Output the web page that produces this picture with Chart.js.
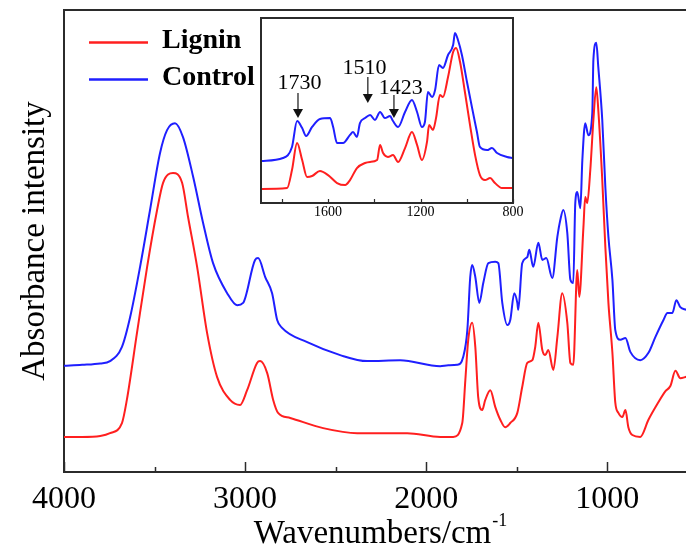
<!DOCTYPE html>
<html><head><meta charset="utf-8">
<script src="https://cdn.jsdelivr.net/npm/chart.js@4.4.1/dist/chart.umd.min.js"></script>
<style>
html,body{margin:0;padding:0;background:#fff;overflow:hidden;width:686px;height:550px;}
#wrap{position:relative;width:686px;height:550px;overflow:hidden;background:#fff;}
#main{position:absolute;left:0;top:0;}
#inset{position:absolute;left:250px;top:8px;}
</style></head><body>
<div id="wrap">
<canvas id="main" width="720" height="550" style="width:720px;height:550px"></canvas>
<canvas id="inset" width="280" height="215" style="width:280px;height:215px"></canvas>
</div>
<script>
// ---------- DATA (main spectrum) ----------
const ligninWn = [4000,3900,3800,3746,3680,3653,3597,3541,3486,3453,3398,3348,3315,3265,3210,3155,3083,3028,2989,2934,2917,2878,2845,2818,2751,2569,2381,2105,1923,1851,1801,1784,1768,1746,1729,1713,1691,1674,1646,1619,1591,1564,1536,1497,1470,1442,1414,1398,1381,1359,1343,1326,1298,1276,1249,1221,1204,1188,1166,1155,1132,1122,1111,1094,1077,1061,1050,1028,1011,994,972,956,939,917,900,884,862,818,773,724,679,652,624,597,564];
const ligninAbs = [7.6,7.6,7.8,8.4,10.6,15.6,30.1,44.4,56.7,62.6,64.7,62.6,55.2,44.4,30.1,20.6,15.6,14.5,17.7,23.6,24.0,21.4,15.6,12.8,11.7,9.5,8.4,8.4,7.6,7.6,10.6,19.9,28.6,32.3,27.1,16.2,13.4,15.6,17.7,14.1,11.3,9.7,10.6,12.8,18.4,23.6,24.2,27.1,32.3,26.4,25.3,26.4,22.1,29.2,38.7,32.3,23.6,23.2,43.7,37.9,53.0,59.5,58.2,65.4,76.2,83.3,78.4,63.2,48.7,36.6,25.8,15.0,12.8,11.9,13.4,9.7,8.0,7.6,11.3,14.7,17.5,18.6,21.9,20.3,20.6];
const controlWn = [4000,3900,3800,3746,3680,3635,3580,3525,3470,3431,3387,3343,3287,3232,3177,3099,3044,3011,2945,2928,2889,2851,2823,2796,2657,2475,2326,2144,1923,1878,1829,1796,1773,1757,1746,1729,1707,1685,1657,1619,1602,1580,1552,1536,1514,1497,1492,1470,1442,1431,1409,1381,1359,1337,1304,1276,1260,1243,1221,1204,1188,1177,1166,1149,1138,1122,1105,1083,1077,1061,1050,1028,1011,994,972,956,928,900,873,818,773,735,690,668,641,619,597,564];
const controlAbs = [23.0,23.2,23.5,24.0,27.1,33.5,44.4,56.7,69.0,74.0,75.5,72.5,63.9,53.9,45.2,38.7,36.1,36.6,45.9,46.3,42.2,38.7,32.9,31.2,28.1,25.3,24.0,24.2,22.9,23.1,23.2,24.9,30.7,42.2,44.8,42.2,36.6,40.9,45.2,45.5,45.2,36.6,31.8,32.9,38.7,36.6,35.1,45.2,46.5,48.1,44.4,49.6,45.9,46.3,42.0,50.9,54.5,56.7,51.7,41.6,40.9,58.2,60.6,57.1,67.5,75.5,72.9,77.7,89.2,92.9,87.7,76.2,61.7,50.9,41.6,30.7,28.6,29.0,26.0,24.2,25.8,29.2,32.9,34.4,34.4,37.2,35.7,35.1];
const xTickValues = [4000,3500,3000,2500,2000,1500,1000,500];
const xLabelValues = [4000,3000,2000,1000];

// ---------- DATA (inset, 1890-800 cm-1) ----------
const insetLigninWn = [1890,1777,1756,1734,1712,1691,1669,1635,1600,1561,1526,1505,1475,1440,1418,1388,1375,1362,1341,1319,1297,1267,1237,1215,1194,1172,1163,1146,1133,1116,1103,1081,1059,1046,1029,1008,986,964,943,921,899,878,848,800];
const insetLigninAbs = [7.6,8.1,17.8,32.4,23.2,14.1,14.6,17.3,15.1,10.8,9.7,12.4,18.9,21.6,22.2,23.2,31.4,27.0,24.9,25.9,22.2,29.7,38.4,31.4,23.2,33.0,42.2,39.5,45.9,58.4,57.3,68.1,81.6,83.8,76.2,60.0,42.2,25.9,15.1,12.4,13.5,10.8,8.1,8.1];
const insetControlWn = [1890,1795,1756,1734,1712,1695,1669,1635,1591,1578,1561,1535,1505,1492,1475,1462,1440,1418,1397,1375,1354,1332,1319,1297,1267,1237,1215,1194,1181,1168,1150,1137,1120,1103,1081,1059,1051,1038,1021,999,977,956,943,912,891,869,826,800];
const insetControlAbs = [22.7,24.3,30.3,44.3,40.5,36.2,41.1,45.4,45.9,41.1,32.4,32.4,36.8,38.4,35.7,43.2,45.9,47.6,44.9,49.2,45.9,47.0,44.3,41.1,49.2,55.7,49.2,41.1,43.8,60.0,57.3,61.1,74.6,73.0,80.0,85.4,91.9,88.1,80.0,65.4,51.4,38.4,30.3,28.6,29.7,27.0,24.9,24.3];
const insetTickValues = [1800,1600,1400,1200,1000,800];
const insetLabelValues = [1600,1200,800];

// annotations in the inset
const annLabels = ['1730','1510','1423'];
const annArrowWn = [1730,1428,1315];
const annTextWn = [1723,1442,1286];
const annTipY = [45.9,54.1,45.9];
const annTailY = [59.5,68.1,58.4];
const annTextY = [61.6,69.7,58.9];

// ---------- STYLE ----------
const SERIF = "'Liberation Serif','Times New Roman',serif";
const RED = '#ff1f1f', BLUE = '#1f1fff', AXIS = '#2b2b2b';

const pts = (xs, ys) => xs.map((x, i) => ({x: x, y: ys[i]}));

const mainDecor = {
  id: 'mainDecor',
  afterDraw(chart) {
    const ctx = chart.ctx, ca = chart.chartArea, xs = chart.scales.x;
    ctx.save();
    // top frame line
    ctx.strokeStyle = AXIS; ctx.lineWidth = 2;
    ctx.beginPath(); ctx.moveTo(ca.left - 1, ca.top); ctx.lineTo(ca.right, ca.top); ctx.stroke();
    // inward tick marks
    ctx.lineWidth = 1.5;
    xTickValues.forEach(v => {
      const px = Math.round(xs.getPixelForValue(v)) + 0.5;
      const len = (v % 1000 === 0) ? 10 : 5;
      ctx.beginPath(); ctx.moveTo(px, ca.bottom); ctx.lineTo(px, ca.bottom - len); ctx.stroke();
    });
    // x axis title with superscript
    ctx.fillStyle = '#000';
    ctx.textBaseline = 'alphabetic'; ctx.textAlign = 'left';
    const t1 = 'Wavenumbers/cm', t2 = '-1';
    ctx.font = '33px ' + SERIF;
    const w1 = ctx.measureText(t1).width;
    ctx.font = '18px ' + SERIF;
    const w2 = ctx.measureText(t2).width;
    const x0 = 380 - (w1 + w2) / 2;
    ctx.font = '33px ' + SERIF;
    ctx.fillText(t1, x0, 543);
    ctx.font = '18px ' + SERIF;
    ctx.fillText(t2, x0 + w1 + 1, 526);
    // legend
    const items = [{ds: chart.data.datasets[0], y: 48}, {ds: chart.data.datasets[1], y: 85}];
    items.forEach(it => {
      ctx.strokeStyle = it.ds.borderColor; ctx.lineWidth = 2.5;
      ctx.beginPath(); ctx.moveTo(89, it.y - 5.5); ctx.lineTo(148, it.y - 5.5); ctx.stroke();
      ctx.fillStyle = '#000'; ctx.font = 'bold 28px ' + SERIF;
      ctx.fillText(it.ds.label, 162, it.y);
    });
    ctx.restore();
  }
};

new Chart(document.getElementById('main'), {
  type: 'line',
  data: { datasets: [
    {label: 'Lignin', data: pts(ligninWn, ligninAbs), borderColor: RED, borderWidth: 2, pointRadius: 0, fill: false, cubicInterpolationMode: 'monotone'},
    {label: 'Control', data: pts(controlWn, controlAbs), borderColor: BLUE, borderWidth: 2, pointRadius: 0, fill: false, cubicInterpolationMode: 'monotone'}
  ]},
  options: {
    responsive: false, animation: false, events: [],
    layout: {padding: {left: 0, top: 10, right: 4, bottom: 0}},
    plugins: {legend: {display: false}, tooltip: {enabled: false}},
    scales: {
      x: {
        type: 'linear', reverse: true, min: 400, max: 4000,
        afterBuildTicks: s => { s.ticks = xTickValues.map(v => ({value: v})); },
        afterFit: s => { s.height = 78; },
        ticks: {autoSkip: false, maxRotation: 0, minRotation: 0, padding: 8, color: '#000',
          font: {family: SERIF, size: 32},
          callback: v => xLabelValues.includes(v) ? String(v) : ''},
        grid: {display: false, drawTicks: false},
        border: {display: true, color: AXIS, width: 2}
      },
      y: {
        min: 0, max: 100,
        afterFit: s => { s.width = 64; },
        ticks: {display: false},
        grid: {display: false, drawTicks: false},
        border: {display: true, color: AXIS, width: 2},
        title: {display: true, text: 'Absorbance intensity', color: '#000',
          font: {family: SERIF, size: 33}, padding: {top: 16, bottom: 0}}
      }
    }
  },
  plugins: [mainDecor]
});

const insetDecor = {
  id: 'insetDecor',
  beforeDatasetsDraw(chart) {
    const ctx = chart.ctx, ca = chart.chartArea;
    ctx.save(); ctx.fillStyle = '#fff';
    ctx.fillRect(ca.left, ca.top, ca.right - ca.left, ca.bottom - ca.top);
    ctx.restore();
  },
  afterDraw(chart) {
    const ctx = chart.ctx, ca = chart.chartArea, xs = chart.scales.x, ys = chart.scales.y;
    ctx.save();
    ctx.strokeStyle = AXIS; ctx.lineWidth = 2;
    ctx.strokeRect(ca.left, ca.top, ca.right - ca.left, ca.bottom - ca.top);
    ctx.lineWidth = 1.2;
    insetTickValues.forEach(v => {
      const px = Math.round(xs.getPixelForValue(v)) + 0.5;
      ctx.beginPath(); ctx.moveTo(px, ca.bottom); ctx.lineTo(px, ca.bottom - 4); ctx.stroke();
    });
    annLabels.forEach((t, i) => {
      const xa = xs.getPixelForValue(annArrowWn[i]);
      const yTip = ys.getPixelForValue(annTipY[i]);
      const yTail = ys.getPixelForValue(annTailY[i]);
      ctx.strokeStyle = '#444'; ctx.lineWidth = 1.5;
      ctx.beginPath(); ctx.moveTo(xa, yTail); ctx.lineTo(xa, yTip - 8); ctx.stroke();
      ctx.fillStyle = '#111';
      ctx.beginPath(); ctx.moveTo(xa - 5, yTip - 9); ctx.lineTo(xa + 5, yTip - 9); ctx.lineTo(xa, yTip); ctx.closePath(); ctx.fill();
      ctx.fillStyle = '#000'; ctx.font = '22px ' + SERIF;
      ctx.textAlign = 'center'; ctx.textBaseline = 'alphabetic';
      ctx.fillText(t, xs.getPixelForValue(annTextWn[i]), ys.getPixelForValue(annTextY[i]));
    });
    ctx.restore();
  }
};

new Chart(document.getElementById('inset'), {
  type: 'line',
  data: { datasets: [
    {label: 'Lignin', data: pts(insetLigninWn, insetLigninAbs), borderColor: RED, borderWidth: 2, pointRadius: 0, fill: false, cubicInterpolationMode: 'monotone'},
    {label: 'Control', data: pts(insetControlWn, insetControlAbs), borderColor: BLUE, borderWidth: 2, pointRadius: 0, fill: false, cubicInterpolationMode: 'monotone'}
  ]},
  options: {
    responsive: false, animation: false, events: [],
    layout: {padding: {left: 11, top: 10, right: 17, bottom: 0}},
    plugins: {legend: {display: false}, tooltip: {enabled: false}},
    scales: {
      x: {
        type: 'linear', reverse: true, min: 800, max: 1890,
        afterBuildTicks: s => { s.ticks = insetTickValues.map(v => ({value: v})); },
        afterFit: s => { s.height = 20; },
        ticks: {autoSkip: false, maxRotation: 0, minRotation: 0, padding: 1, color: '#000',
          font: {family: SERIF, size: 14},
          callback: v => insetLabelValues.includes(v) ? String(v) : ''},
        grid: {display: false, drawTicks: false},
        border: {display: false}
      },
      y: {display: false, min: 0, max: 100}
    }
  },
  plugins: [insetDecor]
});
</script>
</body></html>
